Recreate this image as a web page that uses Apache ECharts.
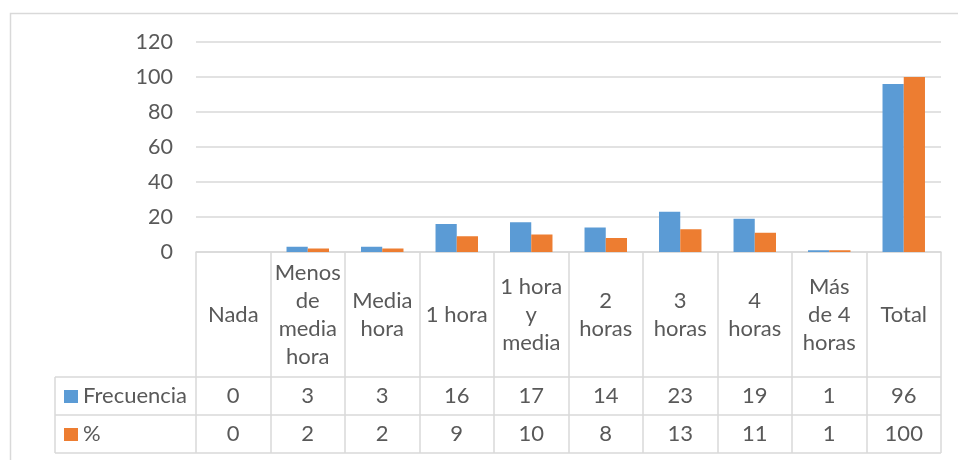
<!DOCTYPE html>
<html>
<head>
<meta charset="utf-8">
<script src="https://cdn.jsdelivr.net/npm/echarts@6/dist/echarts.min.js"></script>
<style>
html,body{margin:0;padding:0;background:#fff;}
#c{width:958px;height:460px;}
</style>
</head>
<body>
<div id="c"></div>
<script>
var categories = ['Nada', 'Menos\nde\nmedia\nhora', 'Media\nhora', '1 hora', '1 hora\ny\nmedia', '2\nhoras', '3\nhoras', '4\nhoras', 'Más\nde 4\nhoras', 'Total'];
var seriesNames = ['Frecuencia', '%'];
var frecuencia = [0, 3, 3, 16, 17, 14, 23, 19, 1, 96];
var porcentaje = [0, 2, 2, 9, 10, 8, 13, 11, 1, 100];
var yTicks = { min: 0, max: 120, interval: 20 };

var FONT = 'Lato';
var TXT = '#595959';
var LINE = '#d9d9d9';
var BLUE = '#5b9bd5';
var ORANGE = '#ed7d31';
var FS = 22;

var gridLeft = 196, gridRight = 17, gridTop = 42, gridBottom = 208;
var axisY = 460 - gridBottom; // 252
var headerBottom = 377, row1Bottom = 415, row2Bottom = 453;
var legendLeft = 55;
var plotRight = 958 - gridRight;

var chart = echarts.init(document.getElementById('c'), null, { renderer: 'canvas' });

function rowAxis(values, centerY) {
  return {
    type: 'category', data: categories, gridIndex: 0, position: 'bottom',
    axisLine: { show: false }, axisTick: { show: false },
    axisLabel: {
      interval: 0, margin: centerY - axisY, verticalAlign: 'middle',
      color: TXT, fontFamily: FONT, fontSize: FS,
      formatter: function (v, i) { return String(values[i]); }
    }
  };
}

var option = {
  animation: false,
  backgroundColor: '#fff',
  textStyle: { fontFamily: FONT },
  grid: { left: gridLeft, right: gridRight, top: gridTop, bottom: gridBottom, containLabel: false },
  xAxis: [
    {
      type: 'category', data: categories, position: 'bottom',
      axisLine: { show: true, lineStyle: { color: LINE, width: 1.5 } },
      axisTick: { show: true, alignWithLabel: false, inside: false, length: row2Bottom - axisY, lineStyle: { color: LINE, width: 1.5 } },
      axisLabel: {
        interval: 0, margin: (axisY + headerBottom) / 2 - axisY, verticalAlign: 'middle',
        color: TXT, fontFamily: FONT, fontSize: FS, lineHeight: 28, align: 'center'
      }
    },
    rowAxis(frecuencia, (headerBottom + row1Bottom) / 2),
    rowAxis(porcentaje, (row1Bottom + row2Bottom) / 2)
  ],
  yAxis: {
    type: 'value', min: yTicks.min, max: yTicks.max, interval: yTicks.interval,
    axisLine: { show: false }, axisTick: { show: false },
    axisLabel: { color: TXT, fontFamily: FONT, fontSize: 21.5, margin: 23 },
    splitLine: { lineStyle: { color: LINE, width: 1.5 } }
  },
  series: [
    { name: seriesNames[0], type: 'bar', data: frecuencia, itemStyle: { color: BLUE }, barGap: '0%', barCategoryGap: '43%' },
    { name: seriesNames[1], type: 'bar', data: porcentaje, itemStyle: { color: ORANGE }, barGap: '0%', barCategoryGap: '43%' }
  ],
  graphic: [
    { type: 'rect', shape: { x: 10.5, y: 13.5, width: 960, height: 470 }, style: { fill: 'none', stroke: LINE, lineWidth: 1.5 }, silent: true },
    { type: 'line', shape: { x1: legendLeft, y1: headerBottom, x2: plotRight, y2: headerBottom }, style: { stroke: LINE, lineWidth: 1.5 } },
    { type: 'line', shape: { x1: legendLeft, y1: row1Bottom, x2: plotRight, y2: row1Bottom }, style: { stroke: LINE, lineWidth: 1.5 } },
    { type: 'line', shape: { x1: legendLeft, y1: row2Bottom, x2: plotRight, y2: row2Bottom }, style: { stroke: LINE, lineWidth: 1.5 } },
    { type: 'line', shape: { x1: legendLeft, y1: headerBottom, x2: legendLeft, y2: row2Bottom }, style: { stroke: LINE, lineWidth: 1.5 } },
    { type: 'rect', shape: { x: 64, y: 390, width: 14, height: 13 }, style: { fill: BLUE } },
    { type: 'text', x: 83, y: (headerBottom + row1Bottom) / 2, style: { text: seriesNames[0], fill: TXT, font: FS + 'px ' + FONT, verticalAlign: 'middle', align: 'left' } },
    { type: 'rect', shape: { x: 64, y: 428, width: 14, height: 13 }, style: { fill: ORANGE } },
    { type: 'text', x: 83, y: (row1Bottom + row2Bottom) / 2, style: { text: seriesNames[1], fill: TXT, font: FS + 'px ' + FONT, verticalAlign: 'middle', align: 'left' } }
  ]
};
chart.setOption(option);
</script>
</body>
</html>
